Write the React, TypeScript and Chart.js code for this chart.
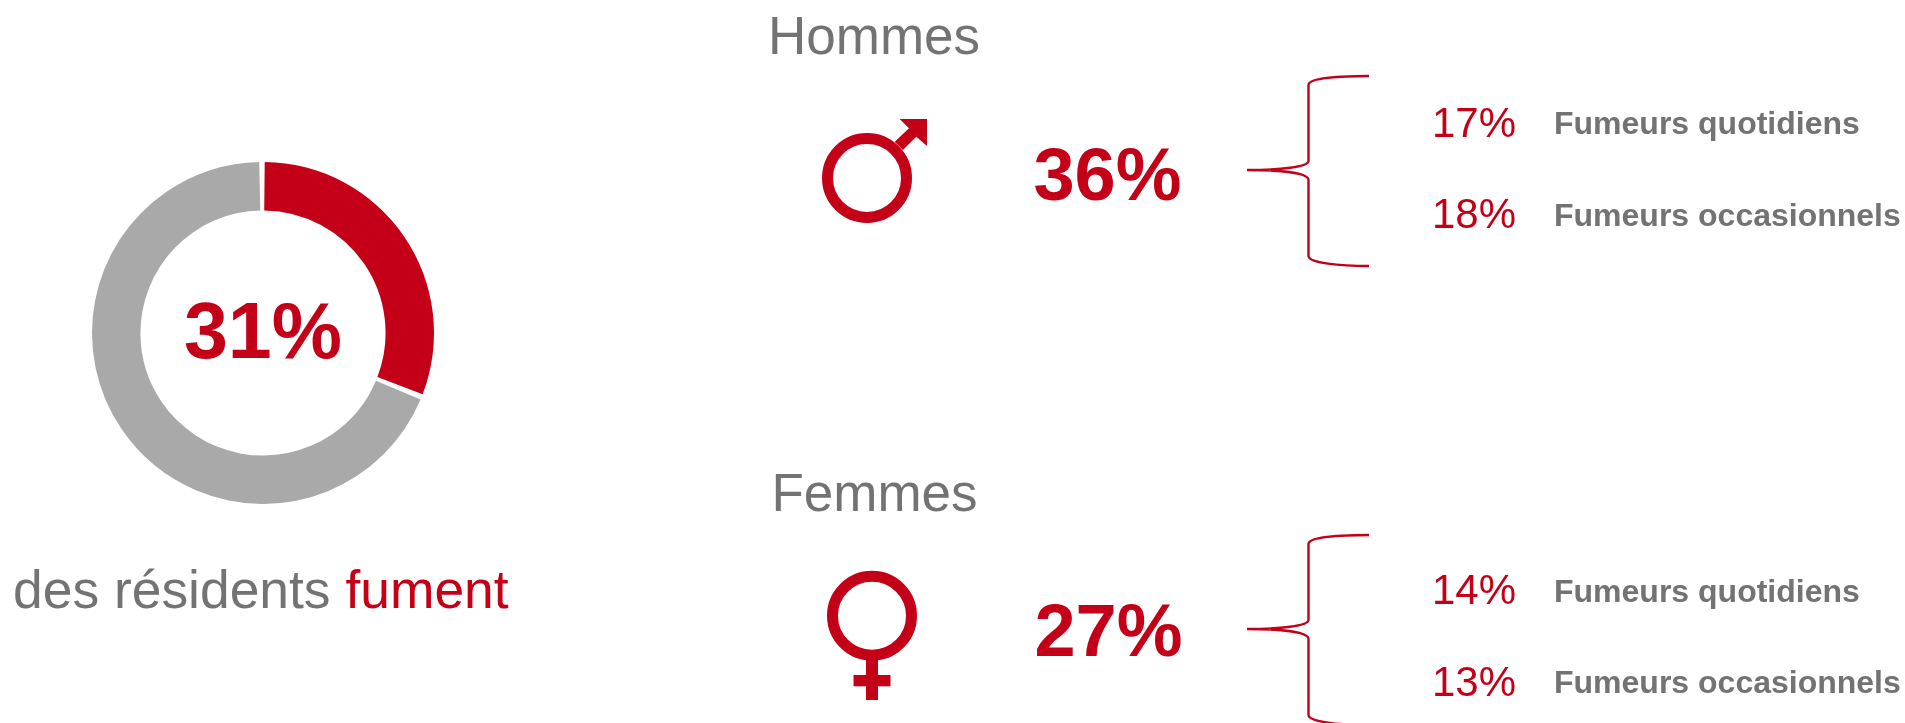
import React, { useEffect, useRef } from "react";
import { Chart, registerables } from "chart.js";

Chart.register(...registerables);

const donutLabels = ["Fument", "Ne fument pas"];
const donutValues = [31, 69];
const totalLabel = "31%";
const captionGrey = "des résidents ";
const captionRed = "fument";
const menTitle = "Hommes";
const womenTitle = "Femmes";
const menTotal = "36%";
const womenTotal = "27%";
const menRows = ["17%", "18%"];
const womenRows = ["14%", "13%"];
const rowLabels = ["Fumeurs quotidiens", "Fumeurs occasionnels"];

const RED = "#C40018";
const GREY = "#A9A9A9";
const TEXT = "#737373";
const FONT = "'Liberation Sans', Arial, sans-serif";

function T(p: { x: number; y: number; size: number; fill: string; bold?: boolean; anchor?: string; children: React.ReactNode }) {
  return (
    <text
      x={p.x}
      y={p.y}
      fontFamily={FONT}
      fontSize={p.size}
      fontWeight={p.bold ? 700 : 400}
      fill={p.fill}
      textAnchor={p.anchor ?? "start"}
    >
      {p.children}
    </text>
  );
}

function Brace({ dy }: { dy: number }) {
  const d = `M1369 ${76 + dy} C1340 ${76 + dy} 1308.5 ${78 + dy} 1308.5 ${85 + dy} L1308.5 ${161 + dy} C1308.5 ${167 + dy} 1280 ${170 + dy} 1247 ${170 + dy} C1280 ${170 + dy} 1308.5 ${173 + dy} 1308.5 ${180 + dy} L1308.5 ${256 + dy} C1308.5 ${263 + dy} 1340 ${266 + dy} 1369 ${266 + dy}`;
  return <path d={d} fill="none" stroke={RED} strokeWidth={2.4} />;
}

export default function App() {
  const ref = useRef<HTMLCanvasElement>(null);
  useEffect(() => {
    const chart = new Chart(ref.current!, {
      type: "doughnut",
      data: {
        labels: donutLabels,
        datasets: [{ data: donutValues, backgroundColor: [RED, GREY], borderWidth: 0, spacing: 3 }],
      },
      options: {
        animation: false,
        responsive: false,
        radius: 169.5,
        cutout: 127.5,
        plugins: { legend: { display: false }, tooltip: { enabled: false } },
      } as any,
    });
    return () => chart.destroy();
  }, []);

  return (
    <div style={{ position: "absolute", left: 0, top: 0, width: 1905, height: 723, overflow: "hidden", background: "#fff" }}>
      <canvas ref={ref} width={360} height={360} style={{ position: "absolute", left: 83, top: 153, width: 360, height: 360 }} />
      <svg width={1905} height={723} style={{ position: "absolute", left: 0, top: 0 }}>
        <T x={263} y={358} size={79} fill={RED} bold anchor="middle">{totalLabel}</T>
        <text x={13} y={608} fontFamily={FONT} fontSize={53.4} fill={TEXT} xmlSpace="preserve">
          {captionGrey}
          <tspan fill={RED}>{captionRed}</tspan>
        </text>

        <T x={874} y={54} size={53} fill={TEXT} anchor="middle">{menTitle}</T>
        <T x={874.5} y={511} size={53} fill={TEXT} anchor="middle">{womenTitle}</T>

        <circle cx={867} cy={178} r={39.5} fill="none" stroke={RED} strokeWidth={11} />
        <polygon fill={RED} points="899.6,119 927,119 927,146 916.3,136.7 902.9,150 894.7,141.7 909,128.3" />

        <circle cx={872} cy={615.8} r={39.5} fill="none" stroke={RED} strokeWidth={11} />
        <rect x={866} y={658} width={12} height={42} fill={RED} />
        <rect x={853.5} y={675} width={37} height={11.3} fill={RED} />

        <T x={1107.5} y={200} size={74} fill={RED} bold anchor="middle">{menTotal}</T>
        <T x={1108.5} y={656} size={74} fill={RED} bold anchor="middle">{womenTotal}</T>

        <Brace dy={0} />
        <Brace dy={459} />

        <T x={1432} y={137} size={42} fill={RED}>{menRows[0]}</T>
        <T x={1432} y={228} size={42} fill={RED}>{menRows[1]}</T>
        <T x={1432} y={604} size={42} fill={RED}>{womenRows[0]}</T>
        <T x={1432} y={696} size={42} fill={RED}>{womenRows[1]}</T>

        <T x={1554} y={134} size={32} fill={TEXT} bold>{rowLabels[0]}</T>
        <T x={1554} y={226} size={32} fill={TEXT} bold>{rowLabels[1]}</T>
        <T x={1554} y={601.5} size={32} fill={TEXT} bold>{rowLabels[0]}</T>
        <T x={1554} y={693} size={32} fill={TEXT} bold>{rowLabels[1]}</T>
      </svg>
    </div>
  );
}
